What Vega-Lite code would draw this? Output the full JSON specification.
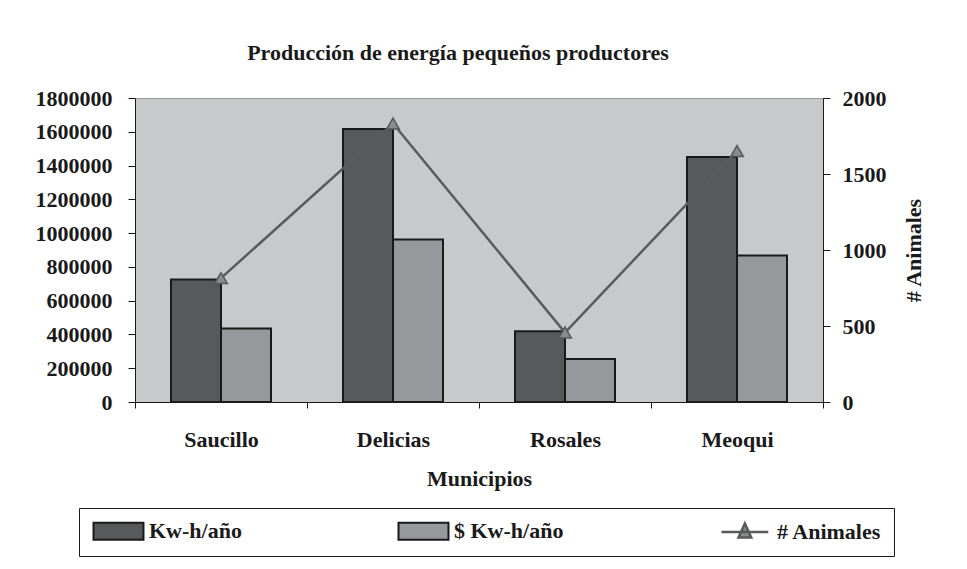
{
  "$schema": "https://vega.github.io/schema/vega-lite/v6.json",
  "autosize": {"type": "none"},
  "width": 688,
  "height": 304,
  "padding": {"left": 135, "top": 98, "right": 144, "bottom": 167},
  "background": "white",
  "title": {
    "text": "Producción de energía pequeños productores",
    "font": "Liberation Serif",
    "fontSize": 22,
    "fontWeight": "bold",
    "color": "#1a1a1a",
    "anchor": "middle",
    "offset": 22,
    "dx": -21
  },
  "config": {
    "view": {"fill": "#c8c9cb", "stroke": "#999999", "strokeWidth": 1},
    "axis": {
      "labelFont": "Liberation Serif",
      "labelFontSize": 22,
      "labelFontWeight": "bold",
      "labelColor": "#1a1a1a",
      "titleFont": "Liberation Serif",
      "titleFontSize": 22,
      "titleFontWeight": "bold",
      "titleColor": "#1a1a1a",
      "domainColor": "#1a1a1a",
      "tickColor": "#1a1a1a",
      "grid": false
    }
  },
  "data": {
    "values": [
      {"municipio": "Saucillo", "serie": "Kw-h/año", "valor": 725000},
      {"municipio": "Saucillo", "serie": "$ Kw-h/año", "valor": 435000},
      {"municipio": "Saucillo", "serie": "# Animales", "valor": 815},
      {"municipio": "Delicias", "serie": "Kw-h/año", "valor": 1617000},
      {"municipio": "Delicias", "serie": "$ Kw-h/año", "valor": 962000},
      {"municipio": "Delicias", "serie": "# Animales", "valor": 1832},
      {"municipio": "Rosales", "serie": "Kw-h/año", "valor": 419000},
      {"municipio": "Rosales", "serie": "$ Kw-h/año", "valor": 255000},
      {"municipio": "Rosales", "serie": "# Animales", "valor": 457},
      {"municipio": "Meoqui", "serie": "Kw-h/año", "valor": 1451000},
      {"municipio": "Meoqui", "serie": "$ Kw-h/año", "valor": 867000},
      {"municipio": "Meoqui", "serie": "# Animales", "valor": 1651}
    ]
  },
  "encoding": {
    "x": {
      "field": "municipio",
      "type": "nominal",
      "sort": null,
      "scale": {"paddingInner": 0, "paddingOuter": 0},
      "axis": {
        "title": "Municipios",
        "labelAngle": 0,
        "tickBand": "extent",
        "tickSize": 6,
        "labelPadding": 21,
        "titlePadding": 18,
        "domainWidth": 1
      }
    }
  },
  "layer": [
    {
      "transform": [{"filter": "datum.serie !== '# Animales'"}],
      "mark": {"type": "bar", "stroke": "#1a1a1a", "strokeWidth": 2},
      "encoding": {
        "xOffset": {
          "field": "serie",
          "type": "nominal",
          "sort": ["Kw-h/año", "$ Kw-h/año"],
          "scale": {"paddingOuter": 0.72, "paddingInner": 0}
        },
        "y": {
          "field": "valor",
          "type": "quantitative",
          "scale": {"domain": [0, 1800000], "nice": false},
          "axis": {
            "title": null,
            "orient": "left",
            "values": [0, 200000, 400000, 600000, 800000, 1000000, 1200000, 1400000, 1600000, 1800000],
            "format": "d",
            "tickSize": 7,
            "labelPadding": 16
          }
        },
        "color": {
          "field": "serie",
          "type": "nominal",
          "scale": {
            "domain": ["Kw-h/año", "$ Kw-h/año", "# Animales"],
            "range": ["#58595b", "#97989c", "#8a8b8e"]
          },
          "legend": {
            "title": null,
            "orient": "none",
            "legendX": -56,
            "legendY": 410,
            "direction": "horizontal",
            "columns": 3,
            "columnPadding": 152,
            "padding": 12,
            "strokeColor": "#1a1a1a",
            "symbolSize": 289,
            "symbolOpacity": 1,
            "symbolType": {"expr": "datum.value === '# Animales' ? 'M-1,0H4.5M1.75,-1L2.5,0.65L1.0,0.65Z' : 'M-1,-1H4.88V1H-1Z'"},
            "symbolStrokeColor": {"expr": "datum.value === '# Animales' ? '#58595b' : '#1a1a1a'"},
            "symbolStrokeWidth": {"expr": "datum.value === '# Animales' ? 2.5 : 2"},
            "labelFont": "Liberation Serif",
            "labelFontSize": 22,
            "labelFontWeight": "bold",
            "labelColor": "#1a1a1a",
            "labelOffset": 36
          }
        }
      }
    },
    {
      "transform": [{"filter": "datum.serie === '# Animales'"}],
      "layer": [
        {
          "mark": {"type": "line", "stroke": "#5a5b5d", "strokeWidth": 2.5},
          "encoding": {
            "y": {
              "field": "valor",
              "type": "quantitative",
              "scale": {"domain": [0, 2000], "nice": false},
              "axis": {
                "title": "# Animales",
                "orient": "right",
                "titleAngle": -90,
                "titlePadding": 39,
                "values": [0, 500, 1000, 1500, 2000],
                "format": "d",
                "tickSize": 7,
                "labelPadding": 12
              }
            }
          }
        },
        {
          "mark": {"type": "point", "shape": "triangle-up", "size": 160, "filled": true, "fill": "#8a8b8e", "stroke": "#58595b", "strokeWidth": 1.5, "opacity": 1},
          "encoding": {
            "y": {"field": "valor", "type": "quantitative", "scale": {"domain": [0, 2000], "nice": false}}
          }
        }
      ]
    }
  ],
  "resolve": {"scale": {"y": "independent"}}
}
